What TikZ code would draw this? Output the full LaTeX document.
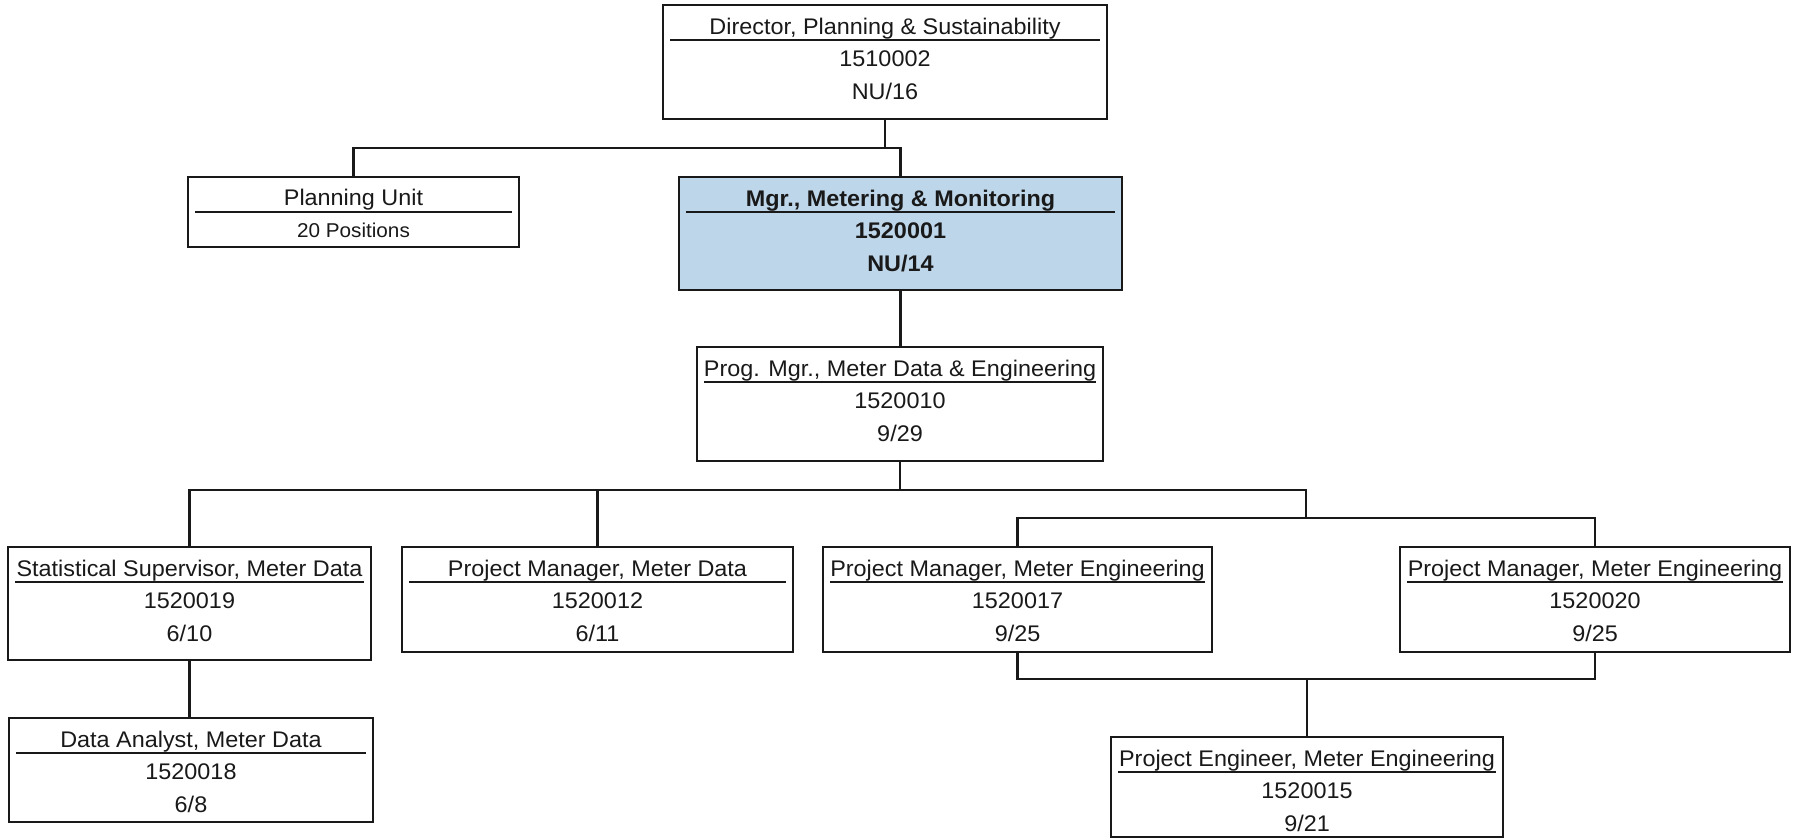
\documentclass[tikz,border=0pt]{standalone}
\usepackage{fontspec}
\setmainfont[FakeStretch=1.035]{Liberation Sans}
\usetikzlibrary{calc}
\definecolor{mgrblue}{RGB}{190,214,234}
\definecolor{ink}{RGB}{25,25,25}
\newcommand\orgbox[9]{%
  \node[box,#6,minimum width=#4pt,minimum height=#5pt] (#1) at (#2,#3) {};
  \draw[titlerule] ($(#1.north west)+(7,35)$) -- ($(#1.north east)+(-7,35)$);
  \node[txt] (#1-t) at ($(#1.north)+(0,29)$) {#7};
  \node[txt] (#1-n) at ($(#1.north)+(0,61)$) {#8};
  \node[txt] (#1-g) at ($(#1.north)+(0,94)$) {#9};
}
\begin{document}
\begin{tikzpicture}[x=1pt,y=-1pt,
  box/.style={draw=ink, line width=2.6pt, anchor=north west, inner sep=0pt, outer sep=0pt, fill=white},
  conn/.style={draw=ink, line width=2.5pt},
  titlerule/.style={draw=ink, line width=2.7pt},
  txt/.style={anchor=base, inner sep=0pt, text=ink, font=\fontsize{22.6}{27}\selectfont}]
\useasboundingbox[fill=white] (0,0) rectangle (1796,839);

\orgbox{dir}{663}{5}{444}{114}{}{Director, Planning \& Sustainability}{1510002}{NU/16}

\node[box,minimum width=331pt,minimum height=70pt] (plan) at (188,177) {};
\draw[titlerule] ($(plan.north west)+(7,35)$) -- ($(plan.north east)+(-7,35)$);
\node[txt] (plan-t) at ($(plan.north)+(0,28)$) {Planning Unit};
\node[txt,font=\fontsize{20}{24}\selectfont] (plan-n) at ($(plan.north)+(0,60)$) {20 Positions};

\orgbox{mgr}{679}{177}{443}{113}{fill=mgrblue}{\textbf{Mgr., Metering \& Monitoring}}{\textbf{1520001}}{\textbf{NU/14}}

\orgbox{prog}{697}{347}{406}{114}{}{Prog. Mgr., Meter Data \& Engineering}{1520010}{9/29}

\orgbox{stat}{8}{547}{363}{113}{}{Statistical Supervisor, Meter Data}{1520019}{6/10}
\orgbox{pmd}{402}{547}{391}{105}{}{Project Manager, Meter Data}{1520012}{6/11}
\orgbox{pme1}{823}{547}{389}{105}{}{Project Manager, Meter Engineering}{1520017}{9/25}
\orgbox{pme2}{1400}{547}{390}{105}{}{Project Manager, Meter Engineering}{1520020}{9/25}
\orgbox{da}{9}{718}{364}{104}{}{Data Analyst, Meter Data}{1520018}{6/8}
\orgbox{pe}{1111}{737}{392}{100}{}{Project Engineer, Meter Engineering}{1520015}{9/21}

% connectors
\coordinate (b1) at (885,148);
\draw[conn] (dir.south) -- (b1);
\draw[conn] (plan.north) -- (plan.north |- b1) -- (mgr.north |- b1) -- (mgr.north);
\draw[conn] (mgr.south) -- (mgr.south |- prog.north);

\coordinate (b2) at (900,490);
\coordinate (b3) at (1306,490);
\coordinate (b4) at (1306,518);
\coordinate (b5) at (1307,679);
\draw[conn] (prog.south) -- (prog.south |- b2);
\draw[conn] (stat.north) -- (stat.north |- b2) -- (b3) -- (b4);
\draw[conn] (pmd.north) -- (pmd.north |- b2);
\draw[conn] (pme1.north) -- (pme1.north |- b4) -- (pme2.north |- b4) -- (pme2.north);
\draw[conn] (pme1.south) -- (pme1.south |- b5) -- (pme2.south |- b5) -- (pme2.south);
\draw[conn] (b5) -- (pe.north);
\draw[conn] (stat.south) -- (stat.south |- da.north);
\end{tikzpicture}
\end{document}
